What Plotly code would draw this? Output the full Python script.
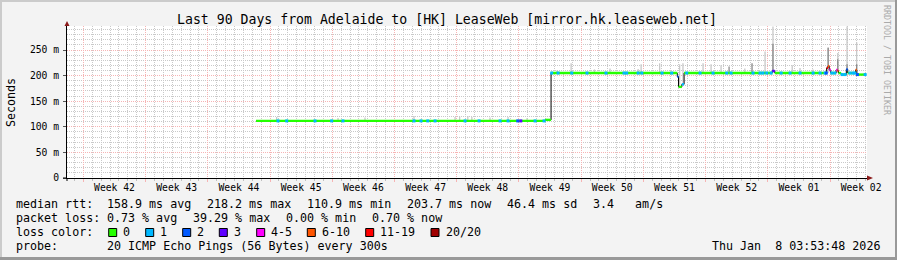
import plotly.graph_objects as go

# ---------------- data ----------------
x_start = "2025-10-10 03:53:48"
x_end = "2026-01-08 03:53:48"

week_starts = ["2025-10-12", "2025-10-19", "2025-10-26", "2025-11-02", "2025-11-09",
               "2025-11-16", "2025-11-23", "2025-11-30", "2025-12-07", "2025-12-14",
               "2025-12-21", "2025-12-28", "2026-01-04"]
week_label_pos = ["2025-10-15 12:00", "2025-10-22 12:00", "2025-10-29 12:00", "2025-11-05 12:00",
                  "2025-11-12 12:00", "2025-11-19 12:00", "2025-11-26 12:00", "2025-12-03 12:00",
                  "2025-12-10 12:00", "2025-12-17 12:00", "2025-12-24 12:00", "2025-12-31 12:00",
                  "2026-01-07 12:00"]
week_labels = ["Week 42", "Week 43", "Week 44", "Week 45", "Week 46", "Week 47", "Week 48",
               "Week 49", "Week 50", "Week 51", "Week 52", "Week 01", "Week 02"]

y_tick_vals = [0, 50, 100, 150, 200, 250]
y_tick_text = ["0", "50 m", "100 m", "150 m", "200 m", "250 m"]

loss_names = ["0", "1", "2", "3", "4-5", "6-10", "11-19", "20/20"]
loss_colors = ["#26ff00", "#00b8ff", "#0059ff", "#5e00ff", "#ff00ff", "#ff5500", "#ff0000", "#a00000"]

# median rtt (ms) as step segments with loss bucket
seg_start = ["2025-10-31 10:20", "2025-12-02 22:50", "2025-12-03 14:50", "2025-12-17 19:40",
             "2025-12-17 23:00", "2025-12-18 08:00", "2025-12-18 14:00", "2025-12-28 12:00",
             "2025-12-28 19:00", "2026-01-03 15:00", "2026-01-03 18:30", "2026-01-03 22:00",
             "2026-01-04 02:00", "2026-01-04 16:30", "2026-01-04 20:00", "2026-01-04 23:00",
             "2026-01-05 06:00", "2026-01-05 20:00", "2026-01-06 00:00", "2026-01-06 21:00",
             "2026-01-07 00:30"]
seg_end = seg_start[1:] + ["2026-01-08 01:30"]
seg_rtt = [111.5, 113.5, 205, 198, 178, 183, 205, 209, 205, 215, 218.5, 211, 205, 211, 209.5,
           205, 202, 212, 205, 211, 202]
seg_loss = ["0", "0", "0", "2", "0", "1", "0", "3", "0", "11-19", "6-10", "4-5", "0", "4-5",
            "6-10", "0", "0", "2", "0", "6-10", "0"]

# isolated lossy samples
spot_time = ["2025-11-02 21:36", "2025-11-03 21:07", "2025-11-07 01:30", "2025-11-08 22:35",
             "2025-11-10 05:00", "2025-11-18 04:50", "2025-11-18 23:50", "2025-11-19 18:00",
             "2025-11-20 13:40", "2025-11-23 22:40", "2025-11-25 12:30", "2025-11-27 21:10",
             "2025-11-28 18:45", "2025-11-29 20:55", "2025-11-30 05:10", "2025-12-01 19:40",
             "2025-12-02 20:00", "2025-12-03 16:30", "2025-12-04 09:50", "2025-12-05 22:50",
             "2025-12-07 15:55", "2025-12-09 19:15", "2025-12-11 19:50", "2025-12-12 03:10",
             "2025-12-13 10:00", "2025-12-13 20:00", "2025-12-16 02:30", "2025-12-17 04:40",
             "2025-12-18 21:10", "2025-12-20 09:10", "2025-12-21 20:15", "2025-12-23 09:10",
             "2025-12-23 20:50", "2025-12-26 08:10", "2025-12-27 03:10", "2025-12-27 11:00",
             "2025-12-27 21:20", "2025-12-28 08:55", "2025-12-29 12:00", "2025-12-30 12:10",
             "2025-12-31 15:10", "2026-01-02 02:20", "2026-01-02 21:10", "2026-01-03 10:40",
             "2026-01-03 14:00", "2026-01-04 05:00", "2026-01-04 13:00", "2026-01-05 08:40",
             "2026-01-05 16:40", "2026-01-06 06:00", "2026-01-06 14:00", "2026-01-06 19:00",
             "2026-01-07 02:00", "2026-01-07 22:50"]
spot_rtt = [111.5, 111.5, 111.5, 111.5, 111.5, 111.5, 111.5, 111.5, 111.5, 111.5, 111.5, 111.5,
            111.5, 111.5, 111.5, 111.5, 111.5, 205, 205, 205, 205, 205, 205, 205, 205, 205,
            205, 205, 205, 205, 205, 205, 205, 205, 205, 205, 205, 205, 205, 205, 205, 205,
            205, 205, 205, 205, 205, 202, 202, 205, 205, 205, 202, 202]
spot_loss = ["1", "1", "1", "1", "1", "1", "1", "1", "1", "1", "1", "1", "1", "2", "3", "1",
             "1", "1", "1", "1", "1", "1", "1", "1", "1", "1", "1", "1", "1", "1", "1", "1",
             "1", "1", "1", "1", "1", "1", "1", "1", "1", "1", "1", "1", "2", "1", "1", "1",
             "1", "1", "1", "1", "2", "1"]

# smoke (spread of the pings), light and dark layers
smoke_time = ["2025-11-02 18:00", "2025-11-09 15:40", "2025-11-12 16:30", "2025-11-18 04:50",
              "2025-11-22 19:40", "2025-11-23 08:00", "2025-11-24 06:00", "2025-11-24 17:00",
              "2025-11-26 18:00", "2025-11-28 18:45", "2025-11-30 22:10",
              "2025-12-04 07:00", "2025-12-05 21:00", "2025-12-08 12:00", "2025-12-10 06:00",
              "2025-12-13 10:00", "2025-12-13 18:00",
              "2025-12-15 20:00", "2025-12-18 02:00", "2025-12-18 11:00", "2025-12-20 17:15",
              "2025-12-21 14:50", "2025-12-22 17:50", "2025-12-25 10:00", "2025-12-27 16:40",
              "2025-12-28 14:00",
              "2025-12-30 18:00", "2025-12-31 15:00", "2026-01-02 02:00", "2026-01-03 19:00",
              "2026-01-04 21:00", "2026-01-05 22:00", "2026-01-07 00:00"]
smoke_low = [111.5, 111.5, 111.5, 111.5, 111.5, 111.5, 111.5, 111.5, 111.5, 111.5, 111.5,
             205, 205, 205, 205, 205, 205, 205, 182, 186, 205, 205, 205, 205, 205, 205, 205,
             205, 205, 205, 205, 205, 205]
smoke_high = [119, 117, 118, 121, 119, 120, 121, 119, 118, 119, 117,
              210, 224, 212, 214, 213, 222, 224, 222, 224, 224, 222, 220, 214, 247, 296, 220,
              215, 212, 256, 244, 296, 265]

core_time = ["2025-12-23 15:30", "2025-12-26 05:30", "2025-12-28 14:00", "2026-01-03 19:00",
             "2026-01-04 21:00", "2026-01-05 22:00", "2026-01-07 00:00"]
core_low = [205, 205, 209, 218, 211, 212, 211]
core_high = [218, 224, 262, 254, 232, 222, 222]

# ---------------- layout helpers ----------------
MONO = "DejaVu Sans Mono"
W, H = 897, 260
L, R, T, B = 67, 867, 26, 178


def X(px):
    return (px - L) / (R - L)


def Y(py):
    return (B - py) / (B - T)


def txt(px, py, s, size=11.67, anchor="left", color="#000000", angle=0):
    return dict(x=X(px), y=Y(py), xref="paper", yref="paper", text=s, showarrow=False,
                xanchor=anchor, yanchor="middle", textangle=angle, borderpad=0, borderwidth=0,
                font=dict(family=MONO, size=size, color=color))


def vsegs(times, lows, highs):
    xs, ys = [], []
    for t, lo, hi in zip(times, lows, highs):
        xs += [t, t, None]
        ys += [lo, hi, None]
    return xs, ys


fig = go.Figure()

sx, sy = vsegs(smoke_time, smoke_low, smoke_high)
fig.add_trace(go.Scatter(x=sx, y=sy, mode="lines", line=dict(color="#c8c8c8", width=1.3),
                         hoverinfo="skip"))
cx, cy = vsegs(core_time, core_low, core_high)
fig.add_trace(go.Scatter(x=cx, y=cy, mode="lines", line=dict(color="#8a8a8a", width=1.3),
                         hoverinfo="skip"))

# black median step line
fig.add_trace(go.Scatter(x=seg_start + [seg_end[-1]], y=seg_rtt + [seg_rtt[-1]], mode="lines",
                         line=dict(color="#000000", width=1, shape="hv"), hoverinfo="skip"))

# loss coloured median segments
for name, col in zip(loss_names, loss_colors):
    xs, ys = [], []
    for s, e, v, lo in zip(seg_start, seg_end, seg_rtt, seg_loss):
        if lo == name:
            xs += [s, e, None]
            ys += [v, v, None]
    if xs:
        fig.add_trace(go.Scatter(x=xs, y=ys, mode="lines", line=dict(color=col, width=2.4),
                                 hoverinfo="skip"))

for name, col in zip(loss_names, loss_colors):
    xs = [t for t, lo in zip(spot_time, spot_loss) if lo == name]
    ys = [v for v, lo in zip(spot_rtt, spot_loss) if lo == name]
    if xs:
        fig.add_trace(go.Scatter(x=xs, y=ys, mode="markers",
                                 marker=dict(symbol="square", size=3, color=col, line=dict(width=0)),
                                 hoverinfo="skip"))

# invisible trace for the label axis
fig.add_trace(go.Scatter(x=week_label_pos, y=[None] * len(week_label_pos), xaxis="x2",
                         mode="markers", hoverinfo="skip"))

GRID_MAJOR = "#f6b4b4"
GRID_MINOR = "#c9c9c9"

fig.update_layout(
    width=W, height=H,
    margin=dict(l=L, r=W - R, t=T, b=H - B, pad=0),
    paper_bgcolor="#f3f3f3", plot_bgcolor="#ffffff",
    showlegend=False,
    xaxis=dict(type="date", range=[x_start, x_end], tickmode="array", tickvals=week_starts,
               ticktext=[""] * len(week_starts), showgrid=True, gridcolor=GRID_MAJOR,
               griddash="1px,1px", gridwidth=1, ticks="outside", ticklen=3, tickcolor=GRID_MAJOR,
               showline=True, linecolor="#000000", linewidth=1, zeroline=False, fixedrange=True,
               minor=dict(tickmode="linear", tick0="2025-10-12", dtick=86400000, showgrid=True,
                          gridcolor=GRID_MINOR, griddash="1px,1px", gridwidth=1,
                          ticks="outside", ticklen=2, tickcolor="#c0c0c0")),
    xaxis2=dict(type="date", range=[x_start, x_end], overlaying="x", anchor="y", side="bottom",
                tickmode="array", tickvals=week_label_pos, ticktext=week_labels, showgrid=False,
                showline=False, ticks="", zeroline=False, fixedrange=True, ticklabelstandoff=2,
                tickfont=dict(family=MONO, size=9.7, color="#000000")),
    yaxis=dict(range=[0, (B - T) / 0.512], tickmode="array", tickvals=y_tick_vals,
               ticktext=y_tick_text, showgrid=True, gridcolor=GRID_MAJOR, griddash="1px,1px",
               gridwidth=1, ticks="outside", ticklen=3, tickcolor="#555555", showline=True,
               linecolor="#000000", linewidth=1, zeroline=False, fixedrange=True,
               ticklabelstandoff=2,
               tickfont=dict(family=MONO, size=9.7, color="#000000"),
               minor=dict(dtick=10, showgrid=True, gridcolor=GRID_MINOR, griddash="1px,1px",
                          gridwidth=1, ticks="")),
)

ann = []
ann.append(txt(447, 19.5, "Last 90 Days from Adelaide to [HK] LeaseWeb [mirror.hk.leaseweb.net]",
               size=13.2, anchor="center"))
ann.append(txt(11, 102, "Seconds", size=11.67, anchor="center", angle=-90))
ann.append(txt(887, 60, "RRDTOOL / TOBI OETIKER", size=8.3, anchor="center", color="#aaaaaa",
               angle=90))

line1 = [(16, "median rtt:"), (107.3, "158.9 ms avg"), (207.3, "218.2 ms max"),
         (307.3, "110.9 ms min"), (407.3, "203.7 ms now"), (507.3, "46.4 ms sd"),
         (593.3, "3.4   am/s")]
line2 = [(16, "packet loss:"), (107.3, "0.73 % avg"), (193.3, "39.29 % max"),
         (286.3, "0.00 % min"), (372.3, "0.70 % now")]
for px, s in line1:
    ann.append(txt(px, 204.3, s))
for px, s in line2:
    ann.append(txt(px, 218.3, s))
ann.append(txt(16, 232.3, "loss color:"))
ann.append(txt(16, 246, "probe:"))
ann.append(txt(107.3, 246, "20 ICMP Echo Pings (56 Bytes) every 300s"))
ann.append(txt(880, 246, "Thu Jan  8 03:53:48 2026", anchor="right"))

box_x = [108.7, 145.7, 182.7, 219.3, 256.7, 307.3, 365.7, 431.0]
shapes = []
for bx, name, col in zip(box_x, loss_names, loss_colors):
    shapes.append(dict(type="rect", xref="paper", yref="paper", x0=X(bx), x1=X(bx + 8),
                       y0=Y(236.5), y1=Y(228.5), fillcolor=col, line=dict(color="#000000", width=1)))
    ann.append(txt(bx + 14.6, 232.3, name))

# axis arrows and small extensions
shapes.append(dict(type="path", xref="paper", yref="paper",
                   path=f"M {X(64.5)},{Y(26)} L {X(69.5)},{Y(26)} L {X(67)},{Y(21)} Z",
                   fillcolor="#8b1a1a", line=dict(width=0)))
shapes.append(dict(type="path", xref="paper", yref="paper",
                   path=f"M {X(867)},{Y(175.5)} L {X(867)},{Y(180.5)} L {X(873)},{Y(178)} Z",
                   fillcolor="#8b1a1a", line=dict(width=0)))
shapes.append(dict(type="line", xref="paper", yref="paper", x0=X(63), x1=X(67), y0=Y(178),
                   y1=Y(178), line=dict(color="#000000", width=1)))
shapes.append(dict(type="line", xref="paper", yref="paper", x0=X(67), x1=X(67), y0=Y(178),
                   y1=Y(181), line=dict(color="#000000", width=1)))

# image frame
shapes.append(dict(type="rect", xref="paper", yref="paper", x0=X(0), x1=X(W), y0=Y(0), y1=Y(2),
                   fillcolor="#cbcbcb", line=dict(width=0)))
shapes.append(dict(type="rect", xref="paper", yref="paper", x0=X(0), x1=X(2), y0=Y(0), y1=Y(H),
                   fillcolor="#cbcbcb", line=dict(width=0)))
shapes.append(dict(type="rect", xref="paper", yref="paper", x0=X(0), x1=X(W), y0=Y(H - 3), y1=Y(H),
                   fillcolor="#999999", line=dict(width=0)))
shapes.append(dict(type="rect", xref="paper", yref="paper", x0=X(W - 2), x1=X(W), y0=Y(0), y1=Y(H),
                   fillcolor="#999999", line=dict(width=0)))

fig.update_layout(annotations=ann, shapes=shapes)

fig.write_html("out.html")
